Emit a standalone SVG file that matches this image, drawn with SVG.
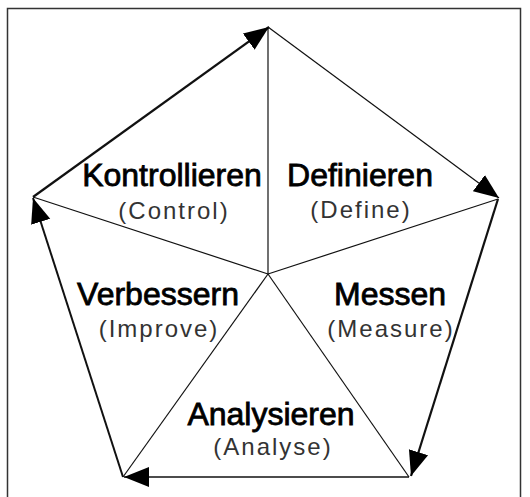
<svg xmlns="http://www.w3.org/2000/svg" width="530" height="497" viewBox="0 0 530 497">
<style>
.frame{fill:none;stroke:#333;stroke-width:1.5}
.spoke{stroke:#111;stroke-width:1.2;fill:none}
.edge{stroke:#111;fill:none}
.title{font-family:"Liberation Sans",Arial,sans-serif;font-size:32px;fill:#000;stroke:#000;stroke-width:0.8;text-anchor:middle}
.sub{font-family:"Liberation Sans",Arial,sans-serif;font-size:24px;fill:#333;text-anchor:middle;letter-spacing:2px}
</style>
<defs>
<marker id="ah" markerUnits="userSpaceOnUse" markerWidth="28" markerHeight="22" refX="25" refY="10" orient="auto" viewBox="0 0 28 20">
<path d="M0,0 L25,10 L0,20 Z" fill="#000"/>
</marker>
</defs>
<rect width="530" height="497" fill="#fff"/>
<rect class="frame" x="7.5" y="8.5" width="513" height="500"/>
<g id="connectors">
<line class="spoke" x1="268" y1="274" x2="268" y2="27"/>
<line class="spoke" x1="268" y1="274" x2="498" y2="199"/>
<line class="spoke" x1="268" y1="274" x2="409" y2="477"/>
<line class="spoke" x1="268" y1="274" x2="123" y2="477"/>
<line class="spoke" x1="268" y1="274" x2="33" y2="197"/>
<line class="edge" stroke-width="2.2" x1="33" y1="197" x2="269" y2="27" marker-end="url(#ah)"/>
<line class="edge" stroke-width="1.2" x1="268" y1="27" x2="499" y2="198" marker-end="url(#ah)"/>
<line class="edge" stroke-width="2.2" x1="498" y1="199" x2="411" y2="476" marker-end="url(#ah)"/>
<line class="edge" stroke-width="1.5" x1="409" y1="477" x2="124" y2="477" marker-end="url(#ah)"/>
<line class="edge" stroke-width="2" x1="123" y1="477" x2="33" y2="198" marker-end="url(#ah)"/>
</g>
<g id="kontrollieren">
<text class="title" x="172" y="186">Kontrollieren</text>
<text class="sub" x="174" y="219">(Control)</text>
</g>
<g id="definieren">
<text class="title" x="360" y="186">Definieren</text>
<text class="sub" x="361" y="218">(Define)</text>
</g>
<g id="verbessern">
<text class="title" x="158" y="305">Verbessern</text>
<text class="sub" x="159" y="337">(Improve)</text>
</g>
<g id="messen">
<text class="title" x="390" y="305">Messen</text>
<text class="sub" x="391" y="337">(Measure)</text>
</g>
<g id="analysieren">
<text class="title" x="271" y="425">Analysieren</text>
<text class="sub" x="273" y="455">(Analyse)</text>
</g>
</svg>
